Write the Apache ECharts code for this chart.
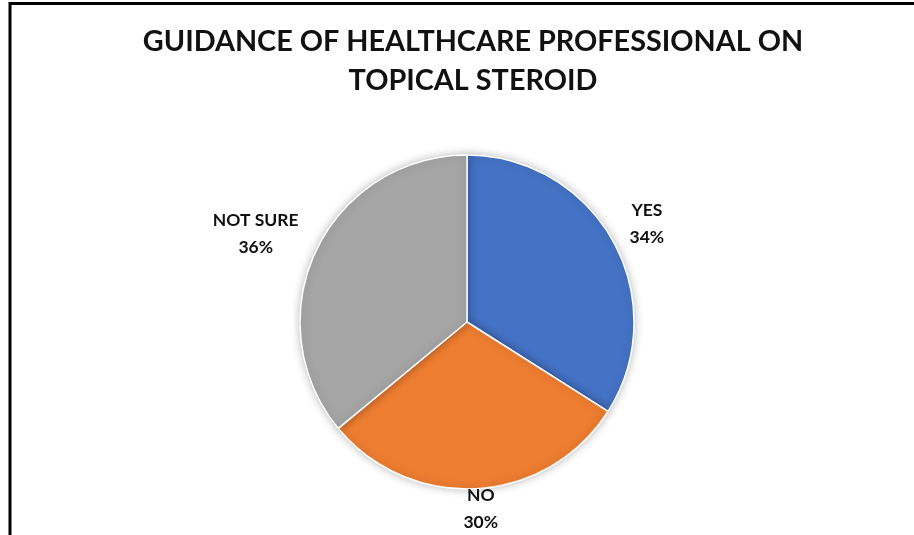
<!DOCTYPE html>
<html>
<head>
<meta charset="utf-8">
<script src="https://cdn.jsdelivr.net/npm/echarts@6/dist/echarts.min.js"></script>
<style>
html,body{margin:0;padding:0;background:#fff;}
#chart{width:914px;height:535px;}
</style>
</head>
<body>
<div id="chart"></div>
<script>
const categories = ['YES', 'NO', 'NOT SURE'];
const values = [34, 30, 36];
const colors = ['#4472C4', '#ED7D31', '#A5A5A5'];
const titleText = 'GUIDANCE OF HEALTHCARE PROFESSIONAL ON\nTOPICAL STEROID';
// label placement tweaks (length, length2) per slice
const labelLineLen = [36, 20, 40];
const labelLineLen2 = [-3, -3, 19];

const chart = echarts.init(document.getElementById('chart'));
const data = categories.map((c, i) => ({
  name: c,
  value: values[i],
  itemStyle: { color: colors[i] },
  labelLine: { show: false, length: labelLineLen[i], length2: labelLineLen2[i] }
}));

chart.setOption({
  animation: false,
  backgroundColor: '#ffffff',
  graphic: [{
    type: 'rect',
    shape: { x: 10, y: 3.5, width: 1200, height: 1200 },
    style: { fill: 'none', stroke: '#000', lineWidth: 3 },
    silent: true
  }],
  title: {
    text: titleText,
    left: 468,
    top: 17,
    textAlign: 'center',
    textStyle: {
      fontFamily: 'Lato',
      fontWeight: 'bold',
      fontSize: 28.8,
      lineHeight: 39,
      color: '#111'
    }
  },
  series: [{
    type: 'pie',
    center: [467, 322],
    radius: [0, 167],
    startAngle: 90,
    clockwise: true,
    avoidLabelOverlap: false,
    data: data,
    itemStyle: {
      borderColor: '#ffffff',
      borderWidth: 1.5,
      shadowBlur: 8,
      shadowColor: 'rgba(0,0,0,0.25)'
    },
    label: {
      show: true,
      position: 'outside',
      formatter: p => p.name + '\n' + p.value + '%',
      fontFamily: 'Lato',
      fontWeight: 'bold',
      fontSize: 17.5,
      lineHeight: 27,
      color: '#111',
      align: 'center'
    },
    labelLine: { show: false },
    labelLayout: function () {
      return { align: 'center', verticalAlign: 'middle' };
    }
  }]
});
</script>
</body>
</html>
